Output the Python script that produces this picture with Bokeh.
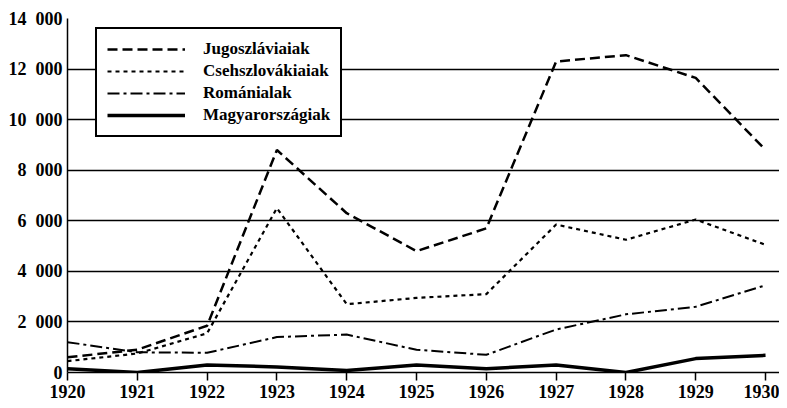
from bokeh.plotting import figure
from bokeh.models import Range1d, FixedTicker, Legend, LegendItem
from bokeh.embed import file_html
from bokeh.resources import INLINE

years = [1920, 1921, 1922, 1923, 1924, 1925, 1926, 1927, 1928, 1929, 1930]
jugoszlaviaiak = [600, 900, 1850, 8800, 6300, 4800, 5700, 12300, 12550, 11650, 8800]
csehszlovakiaiak = [450, 750, 1550, 6500, 2700, 2950, 3100, 5850, 5250, 6050, 5050]
romaniaiak = [1200, 800, 780, 1400, 1500, 900, 700, 1700, 2300, 2600, 3450]
magyarorszagiak = [150, 0, 300, 220, 80, 300, 150, 300, 0, 550, 680]

series_names = ["Jugoszláviaiak", "Csehszlovákiaiak", "Románialak", "Magyarországiak"]
y_ticks = [0, 2000, 4000, 6000, 8000, 10000, 12000, 14000]
y_tick_labels = ["0", "2\u2002000", "4\u2002000", "6\u2002000", "8\u2002000",
                 "10\u2002000", "12\u2002000", "14\u2002000"]

FONT = "Liberation Serif"

p = figure(width=779, height=400, output_backend="svg", toolbar_location=None,
           x_range=Range1d(1920, 1930.2), y_range=Range1d(0, 14000),
           min_border_left=67, min_border_right=0, min_border_top=18, min_border_bottom=27)
p.outline_line_color = None
p.background_fill_color = "white"
p.border_fill_color = "white"

# axes
p.xaxis.ticker = FixedTicker(ticks=years)
p.yaxis.ticker = FixedTicker(ticks=y_ticks)
p.yaxis.major_label_overrides = {t: l for t, l in zip(y_ticks, y_tick_labels)}
for ax in (p.xaxis, p.yaxis):
    ax.axis_line_color = "black"
    ax.axis_line_width = 1.5
    ax.major_tick_line_color = "black"
    ax.major_tick_line_width = 1.5
    ax.minor_tick_line_color = None
    ax.major_label_text_font = FONT
    ax.major_label_text_font_style = "bold"
    ax.major_label_text_font_size = "18px"
    ax.major_label_text_color = "black"
p.xaxis.major_tick_out = 8
p.xaxis.major_tick_in = 0
p.xaxis.major_label_standoff = 4
p.yaxis.major_tick_out = 0
p.yaxis.major_tick_in = 0
p.yaxis.major_label_standoff = 5

p.xgrid.grid_line_color = None
p.ygrid.grid_line_color = "black"
p.ygrid.grid_line_width = 1.5

r1 = p.line(years, jugoszlaviaiak, line_color="black", line_width=2.5, line_dash="10 5")
r2 = p.line(years, csehszlovakiaiak, line_color="black", line_width=2.2, line_dash="4 4")
r3 = p.line(years, romaniaiak, line_color="black", line_width=2, line_dash="12 4 3 4")
r4 = p.line(years, magyarorszagiak, line_color="black", line_width=3.5)

legend = Legend(items=[LegendItem(label=n, renderers=[r]) for n, r in
                       zip(series_names, [r1, r2, r3, r4])],
                location=(28, 235))
legend.glyph_width = 78
legend.glyph_height = 20
legend.label_standoff = 18
legend.padding = 10
legend.spacing = 2
legend.margin = 0
legend.label_text_font = FONT
legend.label_text_font_style = "bold"
legend.label_text_font_size = "17px"
legend.label_text_color = "black"
legend.border_line_color = "black"
legend.border_line_alpha = 1.0
legend.border_line_width = 2
legend.background_fill_color = "white"
legend.background_fill_alpha = 1.0
p.add_layout(legend, "center")

open("out.html", "w").write(file_html(p, INLINE))
